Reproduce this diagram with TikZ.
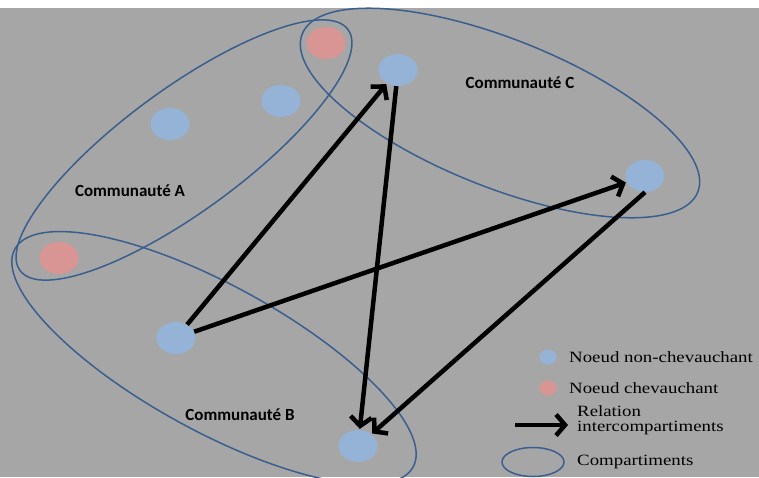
\documentclass[tikz,border=0pt]{standalone}
\usepackage{fontspec}
\setmainfont{Liberation Serif}
\newfontfamily\lblfont{Carlito}
\newfontfamily\legfont[FakeStretch=1.2]{Liberation Serif}
\usetikzlibrary{shapes.geometric,arrows.meta}
\definecolor{bgray}{HTML}{A6A6A6}
\definecolor{nblue}{HTML}{95B3D7}
\definecolor{npink}{HTML}{D99594}
\definecolor{eblue}{HTML}{3A5F8F}
\tikzset{
  comp/.style={ellipse, draw=eblue, line width=1.5pt, inner sep=0pt},
  dot/.style={ellipse, inner sep=0pt, minimum width=39pt, minimum height=32pt},
  bdot/.style={dot, fill=nblue},
  pdot/.style={dot, fill=npink},
  arr/.style={line width=4.5pt, -{Straight Barb[length=9pt,width=21pt]}, shorten >=1pt},
  lbl/.style={font=\lblfont\bfseries\fontsize{17}{20}\selectfont, inner sep=0pt},
  leg/.style={font=\legfont\fontsize{15.7}{15}\selectfont, anchor=west, inner sep=0pt, align=left}
}
\begin{document}
\begin{tikzpicture}[x=1pt,y=-1pt]
\useasboundingbox (0,0) rectangle (759,477);
\fill[white] (0,0) rectangle (759,477);
\fill[bgray] (0,8) rectangle (759,477);
% nodes
\node[pdot] (pA) at (326,43) {};
\node[bdot] (bA1) at (281,101) {};
\node[bdot] (bA2) at (170,124) {};
\node[bdot] (bC1) at (398,70) {};
\node[bdot] (bC2) at (645,176) {};
\node[pdot] (pB) at (59,258) {};
\node[bdot] (bB1) at (176,338) {};
\node[bdot] (bB2) at (358,446) {};
% compartments
\node[comp, minimum width=407pt, minimum height=122pt, rotate=36.3] (cA) at (184,150) {};
\node[comp, minimum width=454pt, minimum height=146pt, rotate=-28.7] (cB) at (214,358) {};
\node[comp, minimum width=426pt, minimum height=148pt, rotate=-21.8] (cC) at (500,113) {};
% labels
\node[lbl] (tA) at (130,191) {Communauté A};
\node[lbl] (tB) at (240,415) {Communauté B};
\node[lbl] (tC) at (520,83) {Communauté C};
% relations
\draw[arr] (bB1) -- (bC1);
\draw[arr] (bB1) -- (bC2);
\draw[arr] (bC1) -- (bB2);
\draw[arr] (bC2.south) -- (bB2);
% legend
\node[ellipse, fill=nblue, inner sep=0pt, minimum width=17pt, minimum height=15pt] (lg1) at (548,357) {};
\node[leg] (lt1) at (569,357) {Noeud non-chevauchant};
\node[ellipse, fill=npink, inner sep=0pt, minimum width=17pt, minimum height=15pt] (lg2) at (548,388) {};
\node[leg] (lt2) at (569,388) {Noeud chevauchant};
\coordinate (la1) at (515,425);
\coordinate (la2) at (568,425);
\draw[line width=4.5pt, -{Straight Barb[length=9pt,width=21pt]}] (la1) -- (la2);
\node[leg] (lt3) at (577,420) {Relation\\intercompartiments};
\node[comp, minimum width=62pt, minimum height=29pt] (lg4) at (533,462) {};
\node[leg] (lt4) at (577,462) {Compartiments};
\end{tikzpicture}
\end{document}
